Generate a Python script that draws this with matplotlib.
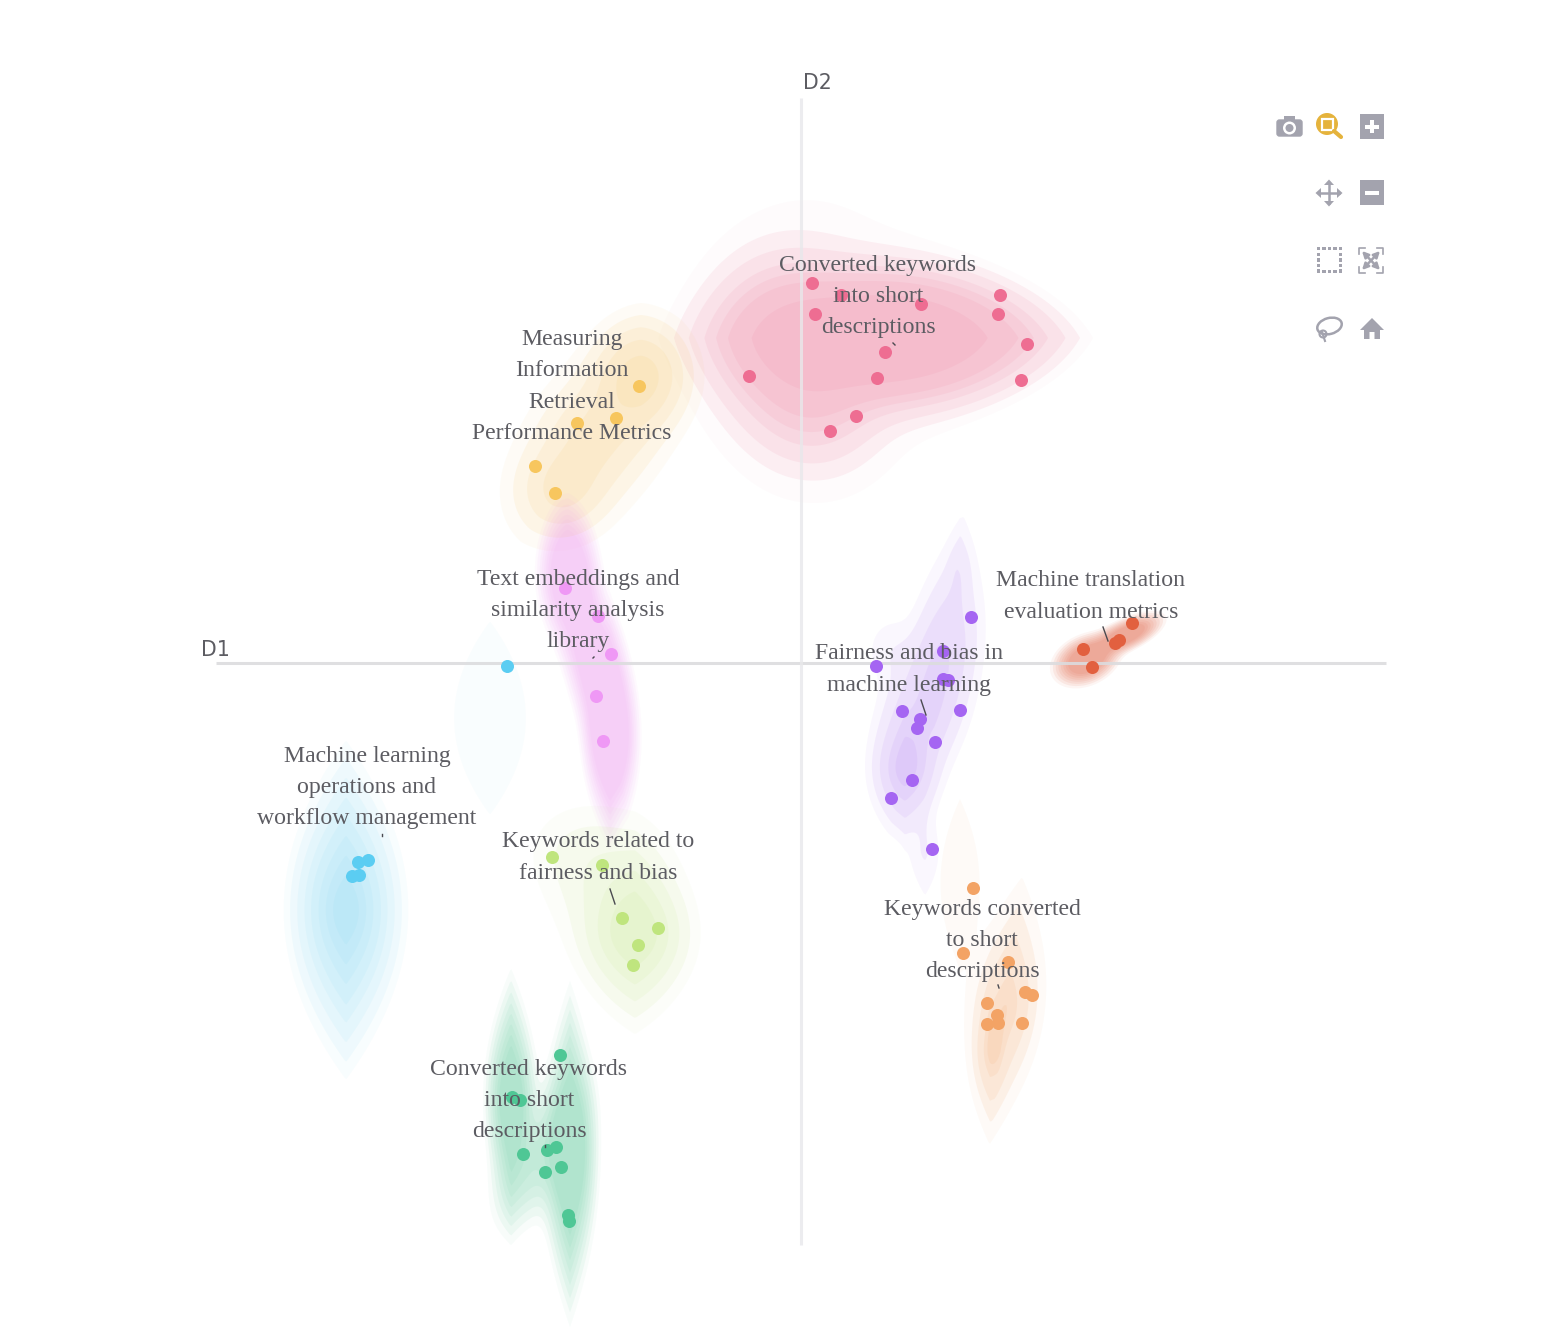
import numpy as np
import matplotlib
matplotlib.use("Agg")
import matplotlib.pyplot as plt
from matplotlib.patches import Circle, Rectangle, FancyBboxPatch, Ellipse, Polygon

# ---- data: coordinates on D1 / D2 ----
pink_x = [11, 40, 120, 199, 197, 14, 226, 84, 76, 220, -52, 55, 29]
pink_y = [380, 368, 359, 368, 349, 349, 319, 311, 285, 283, 287, 247, 232]
yellow_x = [-162, -185, -224, -266, -246]
yellow_y = [277, 245, 240, 197, 170]
magenta_x = [-236, -203, -190, -205, -198]
magenta_y = [75, 47, 9, -33, -78]
blue_x = [-294, -433, -443, -442, -449]
blue_y = [-3, -197, -199, -212, -213]
lime_x = [-249, -199, -179, -143, -163, -168]
lime_y = [-194, -202, -255, -265, -282, -302]
green_x = [-241, -289, -281, -245, -254, -278, -240, -256, -233, -232]
green_y = [-392, -434, -437, -484, -487, -491, -504, -509, -552, -558]
purple_x = [170, 142, 75, 142, 147, 101, 159, 119, 116, 134, 111, 90, 131]
purple_y = [46, 12, -3, -16, -17, -48, -47, -56, -65, -79, -117, -135, -186]
red_x = [331, 318, 314, 282, 291]
red_y = [40, 23, 20, 14, -4]
orange_x = [172, 162, 207, 224, 231, 186, 196, 186, 197, 221]
orange_y = [-225, -290, -299, -329, -332, -340, -352, -361, -360, -360]

# density components: centre x, centre y, half-width, half-length, tilt, weight, lens
pink_density = [(90, 325, 48, 115, 90, 1.0, .5), (-15, 323, 60, 65, 0, .3, 0),
                (14, 262, 55, 55, 0, .17, 0), (14, 318, 175, 240, 0, .07, 0)]
yellow_density = [(-160, 288, 36, 42, 0, 1.0, .2), (-205, 225, 46, 78, 36, .7, .2),
                  (-240, 170, 36, 35, 0, .4, 0)]
magenta_density = [(-233, 90, 21, 50, 0, .85, .3), (-206, 0, 21, 85, -12, .9, .7),
                   (-191, -75, 18, 70, 0, 1.0, 1)]
blue_density = [(-455, -247, 36, 98, 0, 1.0, 1)]
blue_far_density = [(-311, -55, 36, 97, 0, 1.0, 1)]
lime_density = [(-166, -272, 38, 58, 0, 1.0, .8), (-191, -217, 50, 55, 0, .25, 0),
                (-231, -187, 40, 40, 0, .08, 0)]
green_density = [(-231, -491, 18, 102, 0, 1.0, 1), (-290, -437, 17, 80, 0, .85, 1),
                 (-262, -495, 28, 60, 25, .3, 0)]
purple_density = [(104, -107, 22, 45, 0, 1.0, .8), (144, 13, 26, 90, 8, .55, 1),
                  (120, -50, 30, 70, 15, .6, .5), (89, 13, 22, 30, 0, .12, 0),
                  (124, -190, 14, 45, 0, .16, 1), (159, 93, 10, 35, 0, .14, 1)]
orange_density = [(205, -345, 23, 78, 7, .8, 1), (189, -392, 12, 45, 0, .5, 1),
                  (159, -220, 22, 95, 0, .1, 1)]
red_density = [(285, 3, 15, 22, 65, 1.0, 0), (325, 28, 10, 26, 65, .9, 0)]

pink_levels = [.047, .068, .10, .153, .21, .285, .477]
dense_levels = [.05, .09, .16, .265, .39, .56, .73, .88]
soft_levels = [.05, .08, .12, .17, .23, .3, .38, .47]
flat_levels = [.05, .07, .1, .13, .17, .21, .26, .32]
yellow_levels = [.05, .12, .25, .45, .75]
purple_levels = [.05, .12, .28, .55, .8]
orange_levels = [.05, .15, .35, .7, .88]
lime_levels = [.05, .12, .25, .45, .7]
single_level = [.37]

labels = [("Converted keywords\ninto short\ndescriptions", 77, 366.5),
          ("Measuring\nInformation\nRetrieval\nPerformance Metrics", -229, 276.5),
          ("Text embeddings and\nsimilarity analysis\nlibrary", -223, 52.5),
          ("Machine translation\nevaluation metrics", 290, 66.5),
          ("Fairness and bias in\nmachine learning", 108, -6.5),
          ("Machine learning\noperations and\nworkflow management", -434, -124.5),
          ("Keywords related to\nfairness and bias", -203, -194.5),
          ("Keywords converted\nto short\ndescriptions", 181, -277.5),
          ("Converted keywords\ninto short\ndescriptions", -272, -437.5)]
leaders = [((302, 36), (307, 22)), ((120, -37), (125, -52)), ((-191, -226), (-186, -241)),
           ((92, 320), (94, 318)), ((-207, 6), (-208, 5)), ((-419, -171), (-419, -173)),
           ((197, -322), (198, -325)), ((-256, -482), (-256, -484))]
d1_range = [-585, 585]
d2_range = [565, -582]

fig = plt.figure(figsize=(15.6, 13.4), dpi=100, facecolor="white")
ax = fig.add_axes([0, 0, 1, 1])
ax.set_xlim(-801, 759)
ax.set_ylim(-677, 663)
ax.axis("off")

gx, gy = np.meshgrid(np.arange(-801, 760, 1.5), np.arange(-677, 664, 1.5))


def density(parts):
    z = np.zeros_like(gx)
    for cx, cy, a, b, tilt, w, k in parts:
        t = np.radians(tilt)
        dx, dy = gx - cx, gy - cy
        u = np.abs(dx * np.cos(t) - dy * np.sin(t)) / a
        v = np.abs(dx * np.sin(t) + dy * np.cos(t)) / b
        s = (1 - k) * np.hypot(u, v) + k * (u + np.sqrt(u * u + 4 * v * v)) / 2
        z += w * np.exp(-s * s)
    return z / z.max()


clusters = [(pink_density, pink_levels, "#ee6d92", .09, .025),
            (yellow_density, yellow_levels, "#f6c35f", .10, .05),
            (magenta_density, flat_levels, "#ef98f5", .07, .05),
            (blue_density, dense_levels, "#5bcdf2", .062, .04),
            (blue_far_density, single_level, "#5bcdf2", .03, .03),
            (lime_density, lime_levels, "#bfe57e", .095, .04),
            (green_density, soft_levels, "#4fc795", .07, .04),
            (purple_density, purple_levels, "#a565f2", .085, .05),
            (orange_density, orange_levels, "#f3a365", .11, .05),
            (red_density, soft_levels, "#e2603f", .09, .06)]
for parts, levels, colour, alpha, first_alpha in clusters:
    field = density(parts)
    for i, level in enumerate(levels):
        ax.contourf(gx, gy, field, levels=[level, 2], colors=[colour],
                    alpha=first_alpha if i == 0 else alpha, antialiased=True, zorder=1)

ax.plot(d1_range, [0, 0], color="#dcdcde", lw=2.2, alpha=.9, zorder=2, solid_capstyle="butt")
ax.plot([0, 0], d2_range, color="#e8e8eb", lw=2.2, alpha=.8, zorder=2, solid_capstyle="butt")

for xs, ys, colour in [(pink_x, pink_y, "#ee6d92"), (yellow_x, yellow_y, "#f7c65e"),
                       (magenta_x, magenta_y, "#ef98f5"), (blue_x, blue_y, "#5bcdf2"),
                       (lime_x, lime_y, "#bfe57e"), (green_x, green_y, "#4fc795"),
                       (purple_x, purple_y, "#a565f2"), (red_x, red_y, "#e2603f"),
                       (orange_x, orange_y, "#f3a365")]:
    ax.scatter(xs, ys, s=88, color=colour, linewidths=0, zorder=3)

for text, x, y in labels:
    ax.text(x, y, text, family="Liberation Serif", fontsize=17.1, color="#5c5c62",
            ha="center", va="center", linespacing=1.64, zorder=5)
for (x0, y0), (x1, y1) in leaders:
    ax.plot([x0, x1], [y0, y1], color="#4a4a50", lw=1.0, zorder=4)

ax.text(-586, 13, "D1", fontsize=14.8, color="#5c5c62", ha="center", va="center", zorder=5)
ax.text(16, 580, "D2", fontsize=14.8, color="#5c5c62", ha="center", va="center", zorder=5)

# ---- modebar icons, on a pixel overlay ----
tb = fig.add_axes([0, 0, 1, 1], facecolor="none")
tb.set_xlim(0, 1560)
tb.set_ylim(1340, 0)
tb.axis("off")
grey = "#a3a3ae"
gold = "#e5b33c"
# camera
tb.add_patch(FancyBboxPatch((1277, 120), 25, 16, boxstyle="round,pad=0,rounding_size=2.5", fc=grey, ec=grey, lw=1))
tb.add_patch(Rectangle((1284, 116), 11, 5, fc=grey, ec="none"))
tb.add_patch(Circle((1289.5, 128), 6.5, fc="white", ec="none"))
tb.add_patch(Circle((1289.5, 128), 4, fc=grey, ec="none"))
# zoom
tb.plot([1334, 1341], [131, 137], color=gold, lw=3, solid_capstyle="round")
tb.add_patch(Circle((1327, 124), 11, fc=gold, ec="none"))
tb.add_patch(Rectangle((1322, 118.5), 11, 11, fc=gold, ec="white", lw=1.6))
# plus / minus
for yc in (126.5, 192.5):
    tb.add_patch(Rectangle((1359.5, yc - 12.5), 24.5, 24.5, fc=grey, ec="none"))
    tb.add_patch(Rectangle((1365, yc - 2), 13.5, 4, fc="white", ec="none"))
tb.add_patch(Rectangle((1369.8, 119.8), 4, 13.5, fc="white", ec="none"))
# pan
cx, cy = 1329, 193
tb.plot([cx - 10, cx + 10], [cy, cy], color=grey, lw=1.8)
tb.plot([cx, cx], [cy - 10, cy + 10], color=grey, lw=1.8)
for sx, sy in [(1, 0), (-1, 0), (0, 1), (0, -1)]:
    tip = (cx + 13.5 * sx, cy + 13.5 * sy)
    tb.add_patch(Polygon([tip, (cx + 8 * sx + 5 * sy, cy + 8 * sy + 5 * sx),
                          (cx + 8 * sx - 5 * sy, cy + 8 * sy - 5 * sx)], fc=grey, ec="none"))
# box select
for i in range(5):
    p = 1316.5 + i * 5.6
    for rect in [(p, 247), (p, 270), (1316.5, 247 + i * 5.6), (1339, 247 + i * 5.6)]:
        tb.add_patch(Rectangle(rect, 3.4, 3.4, fc=grey, ec="none"))
# autoscale
for x, y, dx, dy in [(1359, 248, 1, 1), (1383, 248, -1, 1), (1359, 273, 1, -1), (1383, 273, -1, -1)]:
    tb.plot([x + 6 * dx, x, x], [y, y, y + 6 * dy], color=grey, lw=1.2)
    tb.annotate("", xy=(x + 3 * dx, y + 3 * dy), xytext=(1371, 260.5),
                arrowprops=dict(arrowstyle="-|>", color=grey, lw=1.8, mutation_scale=9, shrinkA=0, shrinkB=0))
# lasso
tb.add_patch(Ellipse((1329.5, 326), 25, 16, angle=-15, fc="white", ec=grey, lw=1.8))
tb.add_patch(Circle((1323, 334), 3.5, fc="none", ec=grey, lw=1.5))
tb.plot([1322, 1325], [332, 341], color=grey, lw=1.5)
# home
tb.add_patch(Polygon([(1372, 318), (1384, 330), (1380, 330), (1380, 339), (1374.5, 339), (1374.5, 332),
                      (1369.5, 332), (1369.5, 339), (1364, 339), (1364, 330), (1360, 330)], fc=grey, ec="none"))

fig.savefig("out.png", dpi=100)
